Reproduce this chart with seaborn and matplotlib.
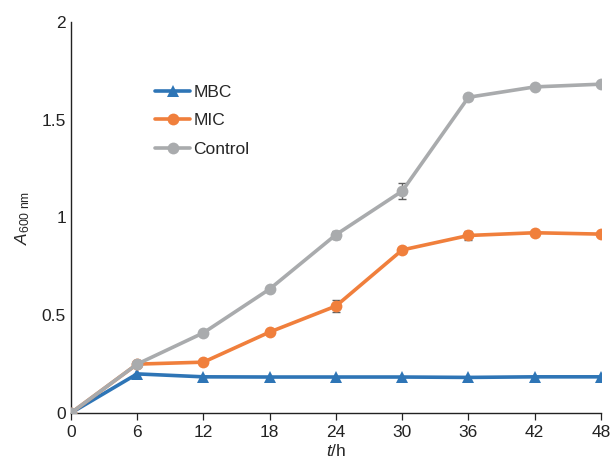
import matplotlib
matplotlib.use("Agg")
import matplotlib.pyplot as plt
import seaborn as sns
import pandas as pd
import numpy as np

hours = [0, 6, 12, 18, 24, 30, 36, 42, 48]
mbc = [0.0, 0.20, 0.185, 0.184, 0.184, 0.184, 0.182, 0.185, 0.185]
mic = [0.0, 0.25, 0.26, 0.414, 0.547, 0.834, 0.908, 0.922, 0.915]
control = [0.0, 0.25, 0.41, 0.634, 0.912, 1.135, 1.615, 1.668, 1.682]
mbc_err = [0, 0, 0, 0, 0, 0, 0, 0, 0]
mic_err = [0, 0, 0, 0, 0.03, 0.015, 0.025, 0.008, 0]
control_err = [0, 0, 0, 0.01, 0.02, 0.04, 0.015, 0.012, 0.008]
series = ["MBC", "MIC", "Control"]
colors = ["#2E75B6", "#F07F3C", "#A9ABAD"]
markers = ["^", "o", "o"]

sns.set_style("white")
plt.rcParams['font.family'] = ['Liberation Sans', 'DejaVu Sans']
plt.rcParams['mathtext.fontset'] = 'custom'
plt.rcParams['mathtext.rm'] = 'Liberation Sans'
plt.rcParams['mathtext.it'] = 'Liberation Sans:italic'

df = pd.DataFrame({
    "t": hours * 3,
    "A": mbc + mic + control,
    "group": ["MBC"] * 9 + ["MIC"] * 9 + ["Control"] * 9,
})

fig = plt.figure(figsize=(6.11, 4.63), dpi=100)
ax = fig.add_axes([0.116, 0.108, 0.8676, 0.8445])

errs = {"MBC": mbc_err, "MIC": mic_err, "Control": control_err}
vals = {"MBC": mbc, "MIC": mic, "Control": control}
for name in series:
    ax.errorbar(hours, vals[name], yerr=errs[name], fmt="none", ecolor="#606060",
                elinewidth=1.0, capsize=3, capthick=1.0, zorder=1)

sns.lineplot(data=df, x="t", y="A", hue="group", hue_order=series,
             palette=colors, style="group", style_order=series,
             markers=dict(zip(series, markers)), dashes=False,
             linewidth=2.6, markersize=8.5, markeredgewidth=0, ax=ax, zorder=3)

ax.set_xlim(0, 48)
ax.set_ylim(0, 2)
ax.set_xticks(hours)
ax.set_xticklabels([str(h) for h in hours])
ax.set_yticks([0, 0.5, 1, 1.5, 2])
ax.set_yticklabels(["0", "0.5", "1", "1.5", "2"])
ax.tick_params(axis="both", labelsize=12.5, colors="#222222")
ax.tick_params(axis="x", direction="out", length=5, width=0.9, bottom=True)
ax.tick_params(axis="y", length=0)
for s in ["top", "right"]:
    ax.spines[s].set_visible(False)
for s in ["left", "bottom"]:
    ax.spines[s].set_color("#222222")
    ax.spines[s].set_linewidth(1.0)

ax.set_xlabel(r"$\mathit{t}$/h", fontsize=12.5, labelpad=2)
ax.set_ylabel(r"$\mathit{A}_{\mathrm{600\ nm}}$", fontsize=12.5, labelpad=7)

leg = ax.legend(loc="upper left", bbox_to_anchor=(0.13, 0.88), frameon=False,
                fontsize=12.5, handlelength=2.0, handletextpad=0.2, labelspacing=0.78)

fig.savefig("out.png", dpi=100)
